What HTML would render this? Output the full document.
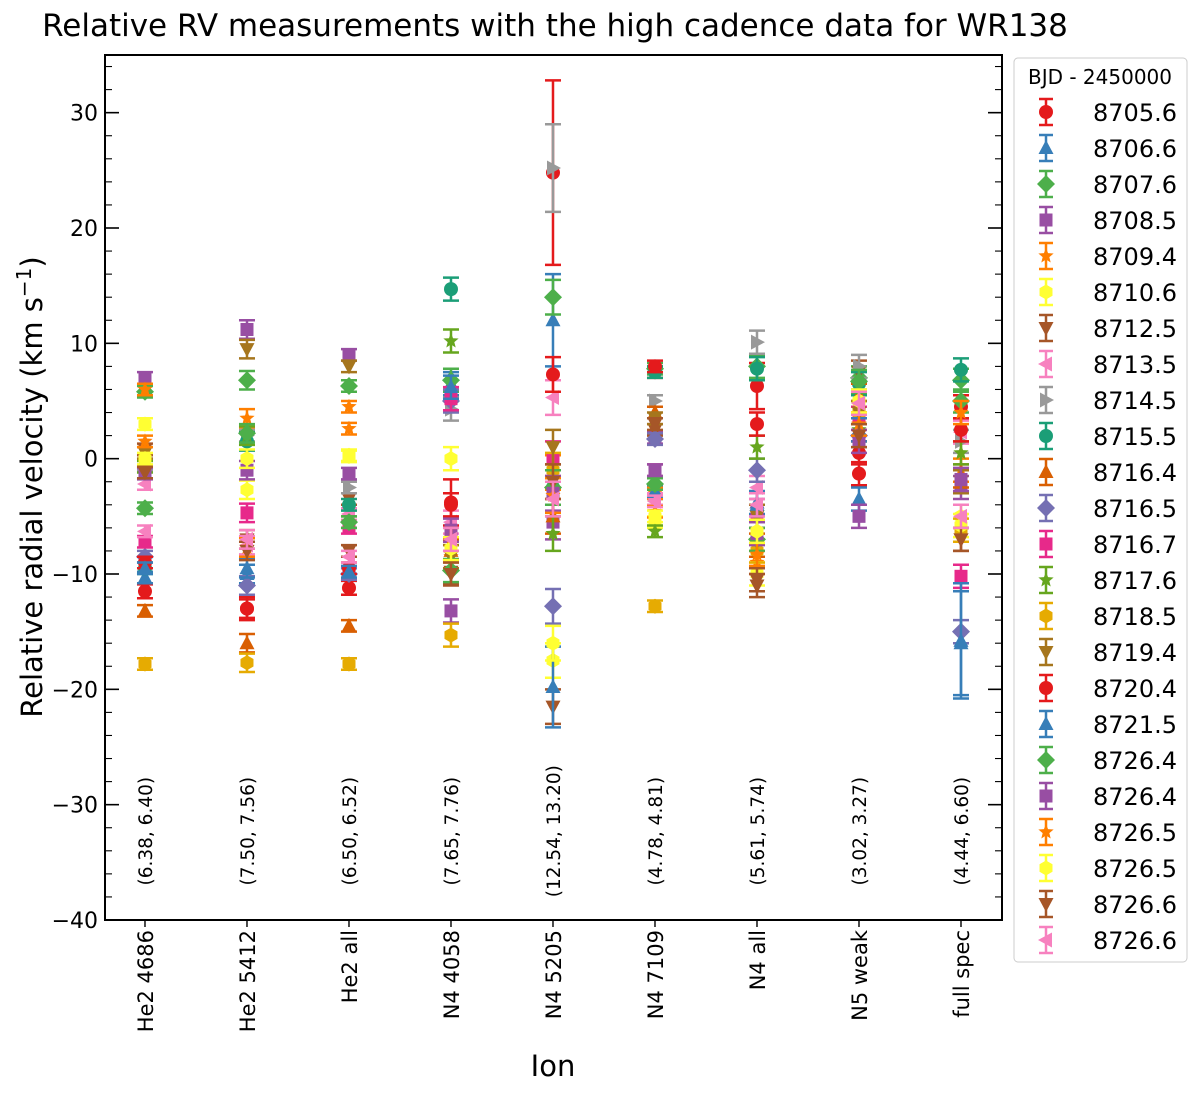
<!DOCTYPE html>
<html><head><meta charset="utf-8">
<style>
body{margin:0;background:#fff;}
svg{display:block;font-family:"DejaVu Sans","Liberation Sans",sans-serif;}
</style></head>
<body>
<svg id="chart" width="1200" height="1095" viewBox="0 0 1200 1095">
<text x="555" y="36" font-size="31" text-anchor="middle">Relative RV measurements with the high cadence data for WR138</text>
<text transform="translate(42,487) rotate(-90)" font-size="29" text-anchor="middle">Relative radial velocity (km s<tspan dy="-11" font-size="20">−1</tspan><tspan dy="11">)</tspan></text>
<text x="553" y="1076" font-size="29" text-anchor="middle">Ion</text>
<g id="plot"></g>
<g id="legend"></g>
</svg>
<script>
const categories=["He2 4686","He2 5412","He2 all","N4 4058","N4 5205","N4 7109","N4 all","N5 weak","full spec"];
const annotations=["(6.38, 6.40)","(7.50, 7.56)","(6.50, 6.52)","(7.65, 7.76)","(12.54, 13.20)","(4.78, 4.81)","(5.61, 5.74)","(3.02, 3.27)","(4.44, 6.60)"];
const seriesLabels=["8705.6","8706.6","8707.6","8708.5","8709.4","8710.6","8712.5","8713.5","8714.5","8715.5","8716.4","8716.5","8716.7","8717.6","8718.5","8719.4","8720.4","8721.5","8726.4","8726.4","8726.5","8726.5","8726.6","8726.6"];
const yTicks=[30,20,10,0,-10,-20,-30,-40];
const errBase=[0.5,0.8,0.5,1.0,1.5,0.5,1.0,1.0,1.0];
const s0=[-11.5,-13,-11.2,-3.8,24.8,7.5,6.3,-1.3,4.5];
const s1=[-10.3,-10,-10,6.5,12,-3,-3.8,-3.5,-16];
const s2=[5.8,6.8,6.3,6.8,14,7.8,8,7,6.8];
const s3=[7,11.2,9,-13.2,-5.5,1.8,-4.5,-5,-2.5];
const s4=[6,3.5,4.5,-8.5,-1.2,-3,-9,3,-1];
const s5=[3,-2.7,0.3,0,-17.5,-5.5,-10,4,-5];
const s6=[0.8,-7,-3.5,-9.8,-21.5,2.5,-11,7.5,-7];
const s7=[-2.2,-7.5,-4.8,-5.5,5.3,-3.5,-2.5,5,2.3];
const s8=[-0.5,2,-2.5,4.3,25.2,5,10.1,8,1.5];
const s9=[-9.5,1.5,-4,14.7,-2.5,7.5,7.8,6.5,7.7];
const s10=[-13.2,-16,-14.5,-8,-5,4,-7.5,5.5,-1.5];
const s11=[-8.5,-11,-10,5,-12.8,1.7,-1,2,-15];
const s12=[-7.2,-4.7,-6,5.2,0,-1,-5,3.5,-10.2];
const s13=[-0.7,2,-5.5,10.2,-6.5,-6.3,1,2.5,0.5];
const s14=[-17.8,-17.7,-17.8,-15.3,-1,-12.8,-8,4,-6.2];
const s15=[0.5,9.5,8,-8.5,1,3.5,-5,4,-2];
const s16=[-9,-13,-9.5,-4,7.3,8,3,0.5,2.5];
const s17=[-9.5,-9.5,-9.8,6.2,-19.8,-2.8,-4,2.5,-15.8];
const s18=[-4.3,2.2,-5.5,-9.7,-2.5,-2.2,-7,6.7,5];
const s19=[-1.3,-1,-1.3,-6.2,-3,-1,-6.5,1.5,-1.8];
const s20=[1.5,-7.7,2.6,-7,-3.2,-4.6,-8.3,3,4];
const s21=[0,0,0.2,-7.8,-16,-5,-6.3,5,-5.8];
const s22=[-1.2,-8,-8,-10,-2,3,-10.5,2,-7];
const s23=[-6.3,-7,-8.5,-7,-3.5,-3.7,-4,4.8,-5];
const seriesValues=[s0,s1,s2,s3,s4,s5,s6,s7,s8,s9,s10,s11,s12,s13,s14,s15,s16,s17,s18,s19,s20,s21,s22,s23];
const bigErr0=[0.6,1,0.6,2,8,0.5,2,1,1];
const bigErr8=[0.5,0.5,0.5,1,3.8,0.5,1,1,1];
const bigErr1=[0.5,0.8,0.5,1,4,0.5,1,1,4.5];
const bigErr17=[0.5,0.8,0.5,1,3.5,0.5,1,1,5];
const errOverride={0:bigErr0,8:bigErr8,1:bigErr1,17:bigErr17};

const colors=["#e41a1c","#377eb8","#4daf4a","#984ea3","#ff7f00","#ffff33","#a65628","#f781bf","#999999","#1b9e77","#d95f02","#7570b3","#e7298a","#66a61e","#e6ab02","#a6761d","#e41a1c","#377eb8","#4daf4a","#984ea3","#ff7f00","#ffff33","#a65628","#f781bf"];
const markers=["o","^","D","s","*","h","v","<",">","o","^","D","s","*","h","v","o","^","D","s","*","h","v","<"];

const NS="http://www.w3.org/2000/svg";
const L=105,R=1002,T=55,B=920,xMin=-0.392,xMax=8.402,yMin=-40,yMax=35;
const xs=v=>L+(v-xMin)/(xMax-xMin)*(R-L);
const ys=v=>B-(v-yMin)/(yMax-yMin)*(B-T);
function mk(tag,attrs,parent){const e=document.createElementNS(NS,tag);for(const k in attrs)e.setAttribute(k,attrs[k]);parent.appendChild(e);return e;}
function marker(m,cx,cy,col,parent){
  let e;
  if(m==="o")e=mk("circle",{cx,cy,r:7},parent);
  else if(m==="s")e=mk("rect",{x:cx-6.5,y:cy-6.5,width:13,height:13},parent);
  else{
    let pts;
    if(m==="^")pts=[[0,-8],[7.5,6],[-7.5,6]];
    else if(m==="v")pts=[[0,8],[7.5,-6],[-7.5,-6]];
    else if(m==="<")pts=[[-8,0],[6,-7.5],[6,7.5]];
    else if(m===">")pts=[[8,0],[-6,-7.5],[-6,7.5]];
    else if(m==="D")pts=[[0,-9],[9,0],[0,9],[-9,0]];
    else if(m==="h"){pts=[];for(let i=0;i<6;i++){const a=Math.PI/3*i-Math.PI/2;pts.push([7.5*Math.cos(a),7.5*Math.sin(a)]);}}
    else {pts=[];for(let i=0;i<10;i++){const a=Math.PI/5*i-Math.PI/2;const rr=i%2?3.5:8;pts.push([rr*Math.cos(a),rr*Math.sin(a)]);}}
    e=mk("polygon",{points:pts.map(p=>(cx+p[0])+","+(cy+p[1])).join(" ")},parent);
  }
  e.setAttribute("fill",col);
  return e;
}
function errbar(cx,cy,e,col,parent){
  const y1=ys(cy+e),y2=ys(cy-e),x=cx;
  mk("line",{x1:x,x2:x,y1:y1,y2:y2,stroke:col,"stroke-width":2.5},parent);
  mk("line",{x1:x-8,x2:x+8,y1:y1,y2:y1,stroke:col,"stroke-width":2.5},parent);
  mk("line",{x1:x-8,x2:x+8,y1:y2,y2:y2,stroke:col,"stroke-width":2.5},parent);
}
const plot=document.getElementById("plot");
for(let v=yMin;v<=yMax;v+=2){
  const major=(v%10===0);const len=major?14:7;const y=ys(v);
  const t1=mk("line",{x1:L,x2:L+len,y1:y,y2:y,stroke:"#000","stroke-width":major?1.6:1.1},plot);
  
  
  const t2=mk("line",{x1:R,x2:R-len,y1:y,y2:y,stroke:"#000","stroke-width":major?1.6:1.1},plot);
  
  
}
yTicks.forEach(v=>{
  const t=mk("text",{x:98,y:ys(v)+8,"font-size":22,"text-anchor":"end"},plot);
  t.textContent=(v<0?"−":"")+Math.abs(v);
  
  
});
categories.forEach((c,i)=>{
  const x=xs(i);
  const tk=mk("line",{x1:x,x2:x,y1:B,y2:B+7,stroke:"#000","stroke-width":1.4},plot);
  
  
  const t=mk("text",{transform:`translate(${x+8},${B+10}) rotate(-90)`,"font-size":21,"text-anchor":"end"},plot);
  t.textContent=c;
  
  
  const a=mk("text",{transform:`translate(${x+7},${ys(-32.3)}) rotate(-90)`,"font-size":18.5,"text-anchor":"middle"},plot);
  a.textContent=annotations[i];
  
  
});
seriesValues.forEach((vals,si)=>{
  const g=mk("g",{},plot);
  
  
  const errs=errOverride[si]||errBase;
  vals.forEach((v,ci)=>{
    const cx=xs(ci);
    errbar(cx,v,errs[ci],colors[si],g);
    const m=marker(markers[si],cx,ys(v),colors[si],g);
    
    
  });
});
const frame=mk("rect",{x:L,y:T,width:R-L,height:B-T,fill:"none",stroke:"#000","stroke-width":2},plot);


const lg=document.getElementById("legend");
const box=mk("rect",{x:1014,y:58,width:173,height:904,rx:4,fill:"#fff",stroke:"#ccc","stroke-width":1},lg);


const lt=mk("text",{x:1100,y:84,"font-size":20,"text-anchor":"middle"},lg);
lt.textContent="BJD - 2450000";


seriesLabels.forEach((s,i)=>{
  const y=112+i*36;
  const g=mk("g",{},lg);
  
  
  const col=colors[i];
  mk("line",{x1:1046,x2:1046,y1:y-13,y2:y+13,stroke:col,"stroke-width":2.5},g);
  mk("line",{x1:1039,x2:1053,y1:y-13,y2:y-13,stroke:col,"stroke-width":2.5},g);
  mk("line",{x1:1039,x2:1053,y1:y+13,y2:y+13,stroke:col,"stroke-width":2.5},g);
  marker(markers[i],1046,y,col,g);
  const t=mk("text",{x:1177,y:y+9,"font-size":24,"text-anchor":"end"},g);
  t.textContent=s;
});
</script>
</body></html>
